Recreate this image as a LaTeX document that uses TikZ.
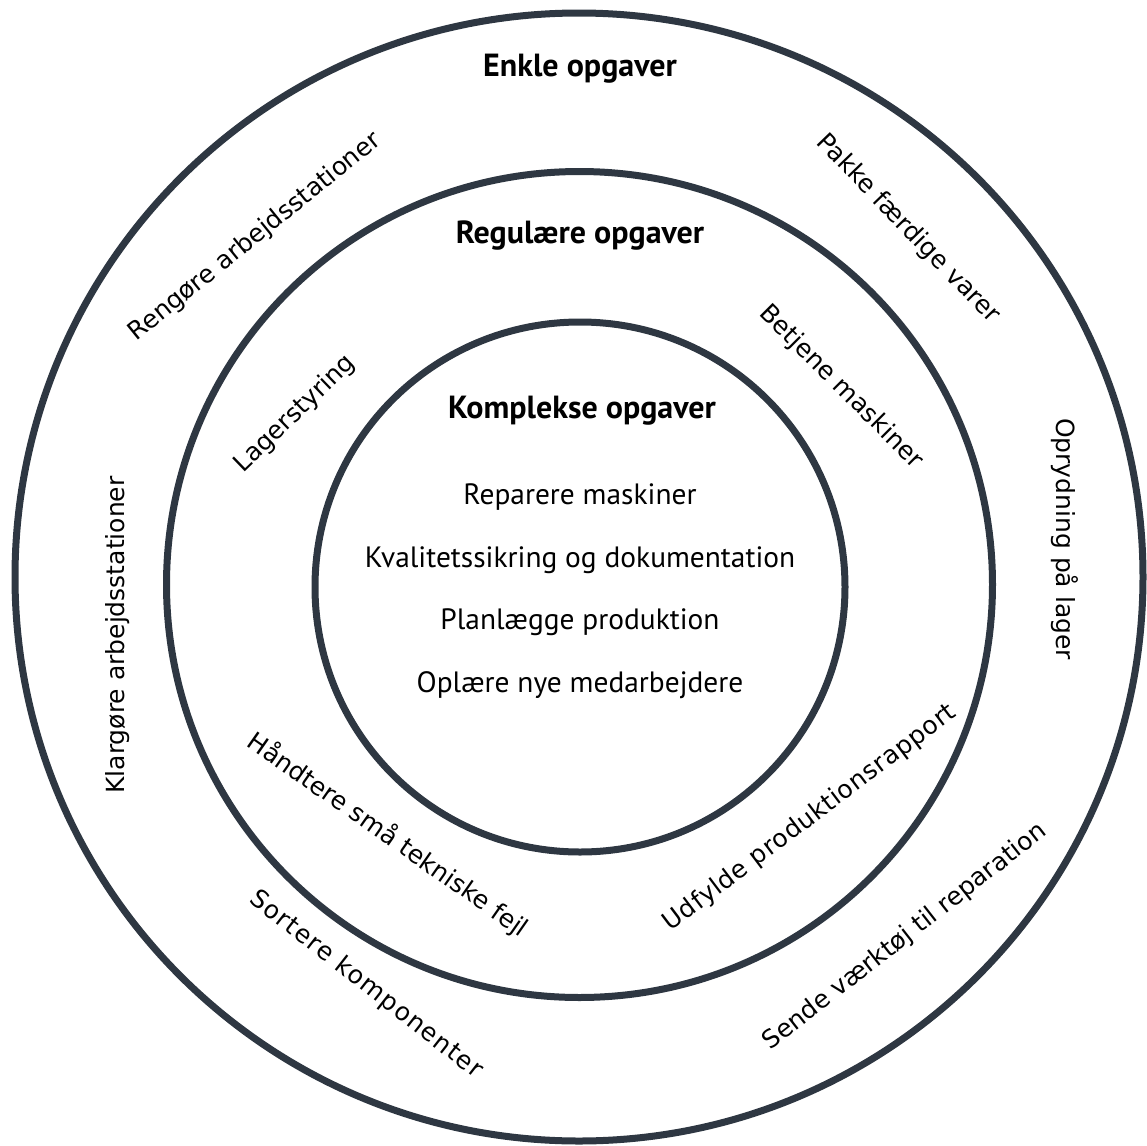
\documentclass[tikz,border=0pt]{standalone}
\usepackage{fontspec}
\newfontfamily\ptsans{PT Sans}
\newfontfamily\dejavu{DejaVu Sans}
\newfontfamily\dejavuwide[LetterSpace=5]{DejaVu Sans}
\newfontfamily\dejavusemi[LetterSpace=2.5]{DejaVu Sans}
\definecolor{ringcol}{HTML}{2E3742}
\tikzset{
  ringc/.style={circle, draw=ringcol, line width=3.5pt, inner sep=0pt, outer sep=0pt},
  head/.style={font=\ptsans\bfseries\fontsize{16}{19}\selectfont, inner sep=0pt},
  core/.style={font=\ptsans\fontsize{14.7}{17}\selectfont, inner sep=0pt},
  task/.style={font=\dejavu\fontsize{12.5}{15}\selectfont, inner sep=0pt},
  taskwide/.style={font=\dejavuwide\fontsize{12.5}{15}\selectfont, inner sep=0pt},
  tasksemi/.style={font=\dejavusemi\fontsize{12.5}{15}\selectfont, inner sep=0pt}
}
\begin{document}
\begin{tikzpicture}[x=0.5pt,y=-0.5pt]
\useasboundingbox (0,0) rectangle (1147,1146);
\node[ringc, minimum size=564pt] (outer) at (579,577) {};
\node[ringc, minimum size=413pt] (middle) at (579.5,584.5) {};
\node[ringc, minimum size=265pt] (inner) at (580,587) {};

\node[head] (h1) at (580,69) {Enkle opgaver};
\node[head] (h2) at (580,236) {Regulære opgaver};
\node[head] (h3) at (582,411) {Komplekse opgaver};

\node[core] (c1) at (580,497) {Reparere maskiner};
\node[core] (c2) at (580,560) {Kvalitetssikring og dokumentation};
\node[core] (c3) at (580,622) {Planlægge produktion};
\node[core] (c4) at (580,685) {Oplære nye medarbejdere};

\node[task, rotate=39] (t1) at (255,237) {Rengøre arbejdsstationer};
\node[task, rotate=-46] (t2) at (908,229) {Pakke færdige varer};
\node[task, rotate=-90] (t3) at (1065,539) {Oprydning på lager};
\node[task, rotate=90] (t4) at (118,635) {Klargøre arbejdsstationer};
\node[task, rotate=38] (t5) at (905,937) {Sende værktøj til reparation};
\node[taskwide, rotate=-38] (t6) at (366,985) {Sortere komponenter};
\node[task, rotate=44] (t7) at (295,414) {Lagerstyring};
\node[task, rotate=-45] (t8) at (841,387) {Betjene maskiner};
\node[task, rotate=-35] (t9) at (388,835) {Håndtere små tekniske fejl};
\node[tasksemi, rotate=37] (t10) at (810,818) {Udfylde produktionsrapport};
\end{tikzpicture}
\end{document}
